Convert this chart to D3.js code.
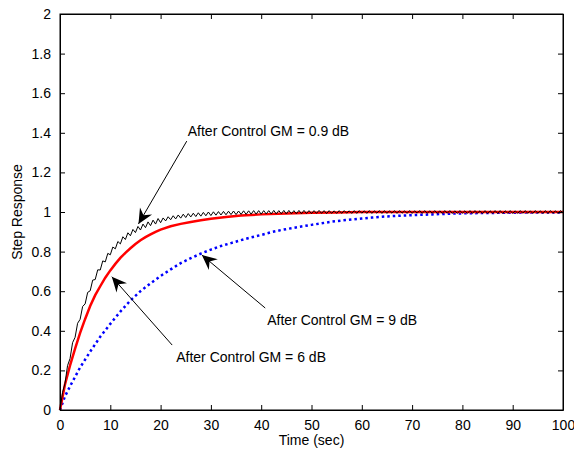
<!DOCTYPE html>
<html>
<head>
<meta charset="utf-8">
<script src="https://cdn.jsdelivr.net/npm/d3@7"></script>
<style>
  body { margin: 0; background: #fff; }
  text { font-family: "Liberation Sans", Arial, sans-serif; font-size: 14px; fill: #000; }
</style>
</head>
<body>
<svg id="chart" width="574" height="457"></svg>
<script>
var blackStep = 0.5;
var blackVals = [
  0, 0.088, 0.135, 0.224, 0.260, 0.340, 0.367, 0.438, 0.458, 0.523,
  0.536, 0.594, 0.602, 0.656, 0.659, 0.708, 0.707, 0.753, 0.748, 0.791,
  0.784, 0.823, 0.814, 0.851, 0.839, 0.875, 0.861, 0.895, 0.880, 0.912,
  0.896, 0.927, 0.909, 0.939, 0.921, 0.950, 0.931, 0.959, 0.939, 0.967,
  0.946, 0.970, 0.955, 0.976, 0.961, 0.981, 0.965, 0.985, 0.969, 0.989,
  0.972, 0.992, 0.975, 0.994, 0.977, 0.996, 0.979, 0.998, 0.981, 1.000,
  0.982, 1.001, 0.984, 1.002, 0.985, 1.003, 0.986, 1.004, 0.987, 1.005,
  0.987, 1.005, 0.988, 1.006, 0.988, 1.006, 0.989, 1.007, 0.989, 1.007,
  0.989, 1.007, 0.990, 1.007, 0.990, 1.008, 0.990, 1.007, 0.991, 1.008,
  0.990, 1.008, 0.991, 1.007, 0.991, 1.008, 0.991, 1.008, 0.992, 1.007,
  0.992, 1.007, 0.993, 1.008, 0.993, 1.007, 0.992, 1.007, 0.993, 1.006,
  0.993, 1.007, 0.993, 1.007, 0.994, 1.006, 0.993, 1.007, 0.993, 1.007,
  0.994, 1.006, 0.993, 1.007, 0.993, 1.006, 0.994, 1.007, 0.993, 1.007,
  0.993, 1.006, 0.994, 1.007, 0.993, 1.007, 0.994, 1.006, 0.993, 1.007,
  0.993, 1.006, 0.994, 1.007, 0.993, 1.007, 0.993, 1.006, 0.994, 1.007,
  0.993, 1.006, 0.993, 1.007, 0.994, 1.007, 0.993, 1.006, 0.993, 1.007,
  0.994, 1.006, 0.993, 1.007, 0.993, 1.007, 0.994, 1.006, 0.993, 1.007,
  0.993, 1.006, 0.994, 1.007, 0.993, 1.007, 0.993, 1.006, 0.994, 1.007,
  0.993, 1.006, 0.993, 1.007, 0.994, 1.007, 0.993, 1.006, 0.993, 1.007,
  0.994, 1.006, 0.993, 1.007, 0.993, 1.007, 0.994, 1.006, 0.993, 1.007,
  0.995
];

// red curve (GM = 6 dB)
var redT = [0, 1, 2, 3, 4, 5, 6, 7, 8, 9, 10, 11, 12, 13, 14, 15, 16, 17, 18, 19, 20,
  22, 24, 26, 28, 30, 33, 36, 40, 45, 50, 55, 60, 70, 80, 90, 100];
var redVals = [0, 0.13, 0.225, 0.31, 0.39, 0.46, 0.525, 0.58, 0.625, 0.668, 0.705,
  0.738, 0.768, 0.794, 0.817, 0.838, 0.857, 0.873, 0.887, 0.900, 0.911,
  0.928, 0.940, 0.950, 0.958, 0.966, 0.975, 0.982, 0.988, 0.993, 0.996, 0.998,
  1.0, 1.0, 1.0, 1.0, 1.0];

// blue curve (GM = 9 dB)
var blueT = [0, 1, 2, 4, 6, 8, 10, 12, 14, 16, 18, 20, 22, 24, 26, 28, 30, 32, 34, 36,
  38, 40, 42, 44, 46, 48, 50, 52, 54, 56, 58, 60, 62, 64, 66, 68, 70, 72, 74, 76,
  78, 80, 84, 88, 92, 96, 100];
var blueVals = [0, 0.07, 0.12, 0.215, 0.295, 0.37, 0.435, 0.497, 0.553, 0.600, 0.640,
  0.677, 0.710, 0.742, 0.767, 0.790, 0.810, 0.828, 0.843, 0.858, 0.872, 0.884,
  0.898, 0.909, 0.918, 0.927, 0.935, 0.943, 0.951, 0.957, 0.962, 0.967, 0.972,
  0.976, 0.979, 0.982, 0.984, 0.986, 0.988, 0.990, 0.992, 0.993, 0.995, 0.996,
  0.997, 0.998, 0.998];

var xTicks = [0, 10, 20, 30, 40, 50, 60, 70, 80, 90, 100];
var yTicks = [0, 0.2, 0.4, 0.6, 0.8, 1, 1.2, 1.4, 1.6, 1.8, 2];

// annotations: label, text pos, arrow tail, arrow tip (data units)
var notes = [
  {label: "After Control GM = 0.9 dB", tx: 25.4, ty: 1.385, x0: 25.2, y0: 1.358, x1: 15.6, y1: 0.94},
  {label: "After Control GM = 9 dB", tx: 41.2, ty: 0.43, x0: 40.8, y0: 0.515, x1: 28.2, y1: 0.783},
  {label: "After Control GM = 6 dB", tx: 23.1, ty: 0.243, x0: 22.3, y0: 0.328, x1: 10.3, y1: 0.673}
];

var draw = function() {
  var pl = 60, pr = 563, pt = 14, pb = 410;
  var x = d3.scaleLinear().domain([0, 100]).range([pl, pr]);
  var y = d3.scaleLinear().domain([0, 2]).range([pb, pt]);

  var svg = d3.select("#chart");

  var line = d3.line().x(function(d) { return x(d[0]); }).y(function(d) { return y(d[1]); });

  var blueData = blueT.map(function(t, i) { return [t, blueVals[i]]; });
  var redData = redT.map(function(t, i) { return [t, redVals[i]]; });
  var blackData = blackVals.map(function(v, i) { return [i * blackStep, v]; });

  svg.append("path").datum(blueData)
    .attr("d", line).attr("fill", "none")
    .attr("stroke", "#0000ff").attr("stroke-width", 2.5)
    .attr("stroke-dasharray", "2.5,3");

  svg.append("path").datum(redData)
    .attr("d", line).attr("fill", "none")
    .attr("stroke", "#ff0000").attr("stroke-width", 2.5);

  svg.append("path").datum(blackData)
    .attr("d", line).attr("fill", "none")
    .attr("stroke", "#000").attr("stroke-width", 1);

  // axes, MATLAB style ticks pointing inward on all sides
  svg.append("g").attr("transform", "translate(0," + pb + ")")
    .call(d3.axisBottom(x).tickValues(xTicks).tickSizeInner(-5).tickSizeOuter(0).tickPadding(10));
  svg.append("g").attr("transform", "translate(0," + pt + ")")
    .call(d3.axisTop(x).tickValues(xTicks).tickSizeInner(-5).tickSizeOuter(0).tickFormat(""));
  svg.append("g").attr("transform", "translate(" + pl + ",0)")
    .call(d3.axisLeft(y).tickValues(yTicks).tickSizeInner(-5).tickSizeOuter(0).tickPadding(9).tickFormat(d3.format("~g")));
  svg.append("g").attr("transform", "translate(" + pr + ",0)")
    .call(d3.axisRight(y).tickValues(yTicks).tickSizeInner(-5).tickSizeOuter(0).tickFormat(""));

  svg.selectAll(".domain").attr("stroke", "#000");
  svg.selectAll(".tick line").attr("stroke", "#000");
  svg.selectAll(".tick text").attr("font-size", 14).attr("font-family", "Liberation Sans, Arial, sans-serif").attr("fill", "#000");

  svg.append("rect")
    .attr("x", pl).attr("y", pt)
    .attr("width", pr - pl).attr("height", pb - pt)
    .attr("fill", "none").attr("stroke", "#000");

  // arrows + labels
  notes.forEach(function(n) {
    var ax = x(n.x0), ay = y(n.y0), bx = x(n.x1), by = y(n.y1);
    var ang = Math.atan2(by - ay, bx - ax) * 180 / Math.PI;
    svg.append("line")
      .attr("x1", ax).attr("y1", ay).attr("x2", bx).attr("y2", by)
      .attr("stroke", "#000").attr("stroke-width", 1);
    svg.append("path")
      .attr("d", "M0,0 L-15,-7 L-10,0 L-15,7 Z")
      .attr("fill", "#000")
      .attr("transform", "translate(" + bx + "," + by + ") rotate(" + ang + ")");
    svg.append("text")
      .attr("x", x(n.tx)).attr("y", y(n.ty))
      .text(n.label);
  });

  svg.append("text")
    .attr("x", (pl + pr) / 2).attr("y", 445)
    .attr("text-anchor", "middle")
    .text("Time (sec)");

  svg.append("text")
    .attr("transform", "translate(22," + ((pt + pb) / 2) + ") rotate(-90)")
    .attr("text-anchor", "middle")
    .text("Step Response");
};

draw();
</script>
</body>
</html>
